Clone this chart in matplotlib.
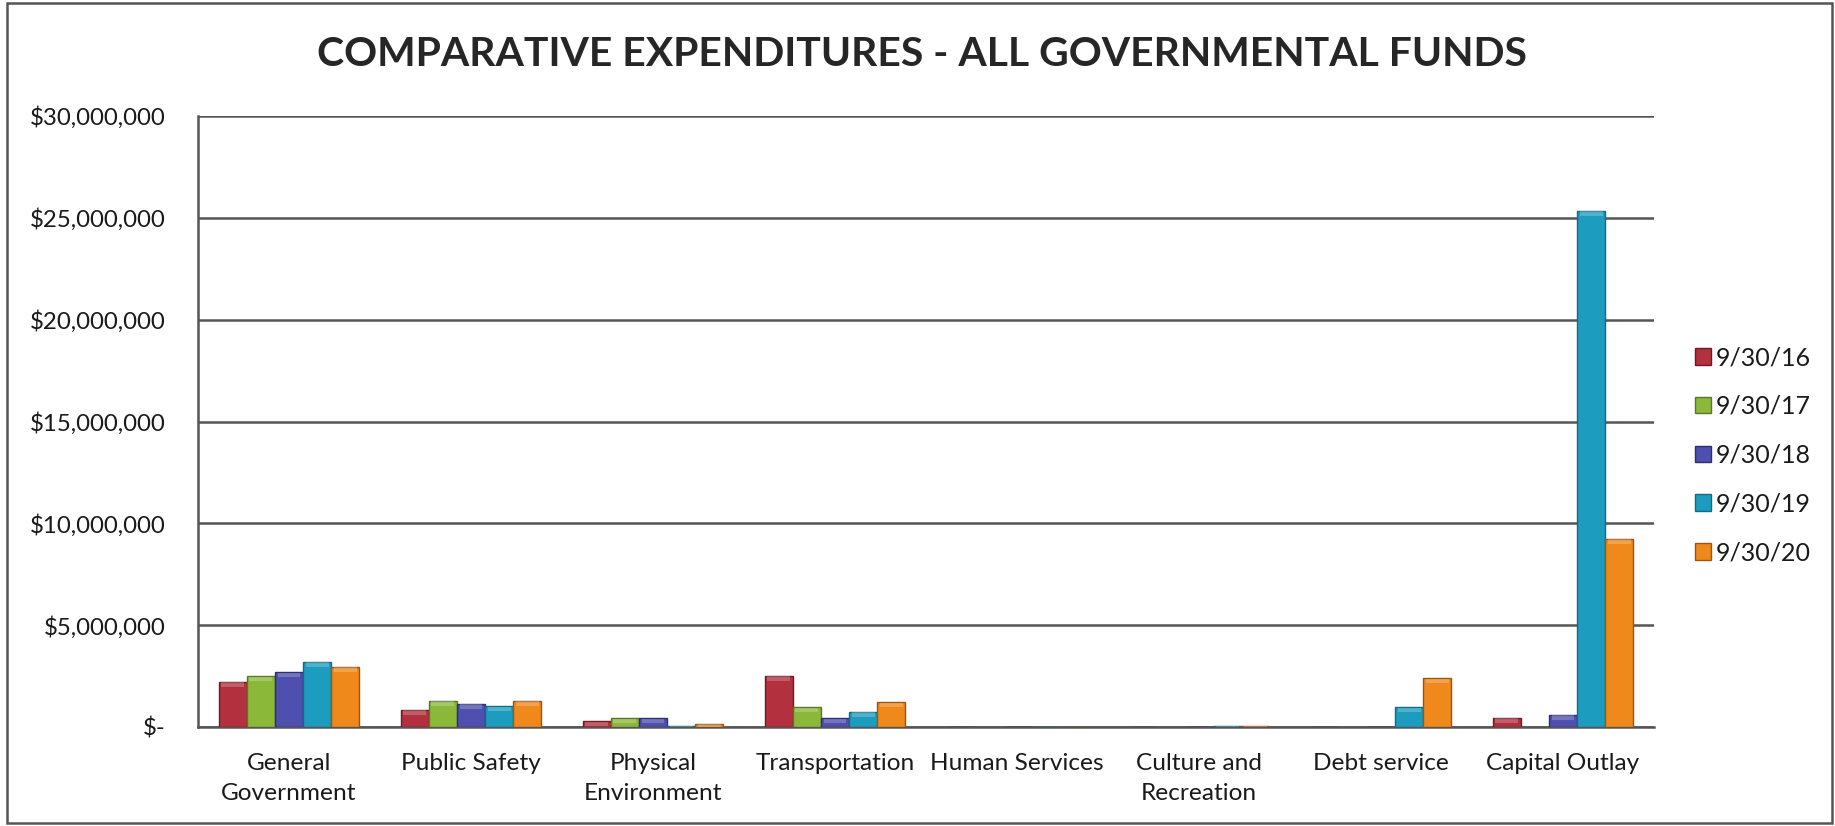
import matplotlib
matplotlib.use("Agg")
import matplotlib.pyplot as plt
import numpy as np
from matplotlib.patches import Rectangle
from matplotlib.ticker import FuncFormatter

categories = ["General\nGovernment", "Public Safety", "Physical\nEnvironment",
              "Transportation", "Human Services", "Culture and\nRecreation",
              "Debt service", "Capital Outlay"]
years = ["9/30/16", "9/30/17", "9/30/18", "9/30/19", "9/30/20"]

# expenditures in dollars, one list per fiscal year end
fy16 = [2_210_000, 850_000, 290_000, 2_520_000, 20_000, 0, 0, 460_000]
fy17 = [2_500_000, 1_290_000, 430_000, 980_000, 0, 0, 0, 0]
fy18 = [2_700_000, 1_150_000, 430_000, 430_000, 0, 0, 0, 610_000]
fy19 = [3_210_000, 1_020_000, 50_000, 750_000, 0, 60_000, 980_000, 25_360_000]
fy20 = [2_960_000, 1_290_000, 160_000, 1_210_000, 0, 60_000, 2_390_000, 9_250_000]

colors = ["#b3303e", "#8cb83a", "#4e4fae", "#1c9dbf", "#f0891c"]
edges = ["#6e1a24", "#57772a", "#2e2f73", "#136a82", "#9b5510"]

plt.rcParams["font.family"] = ["Lato", "DejaVu Sans"]

fig = plt.figure(figsize=(18.35, 8.26), dpi=100)
ax = fig.add_axes([198 / 1835, 1 - 727 / 826, (1654 - 198) / 1835, (727 - 116) / 826])

series = [fy16, fy17, fy18, fy19, fy20]
x = np.arange(len(categories))
w = 0.154
for i, (vals, c, ec, lab) in enumerate(zip(series, colors, edges, years)):
    pos = x + (i - 2) * w
    ax.bar(pos, vals, width=w, color=c, edgecolor=ec, linewidth=1.0,
           label=lab, zorder=3)
    # lighter bevel strip along the top of each bar
    vals = np.array(vals, dtype=float)
    cap = np.minimum(vals, 250_000)
    ax.bar(pos, cap * 0.9, bottom=vals - cap, width=w * 0.82,
           color="white", alpha=0.22, linewidth=0, zorder=4)

ax.set_xlim(-0.5, len(categories) - 0.5)
ax.set_ylim(0, 30_000_000)
ax.set_yticks(np.arange(0, 30_000_001, 5_000_000))
ax.yaxis.set_major_formatter(FuncFormatter(
    lambda v, p: "$-" if v == 0 else f"${v:,.0f}"))
ax.set_xticks(x)
ax.set_xticklabels(categories, fontsize=17.6, color="#1a1a1a", linespacing=1.5)
ax.tick_params(axis="y", labelsize=17.3, labelcolor="#1a1a1a", length=0, pad=23)
ax.tick_params(axis="x", length=0, pad=19)

ax.grid(axis="y", color="#555555", linewidth=1.8, zorder=0)
for s in ["top", "right"]:
    ax.spines[s].set_visible(False)
for s in ["left", "bottom"]:
    ax.spines[s].set_color("#555555")
    ax.spines[s].set_linewidth(1.8)

fig.text(922 / 1835, 1 - 55 / 826, "COMPARATIVE EXPENDITURES - ALL GOVERNMENTAL FUNDS",
         ha="center", va="center", fontsize=29.4, fontweight="bold", color="#262626")

leg = ax.legend(loc="center left", bbox_to_anchor=(1.028, 0.445), frameon=False,
                fontsize=18, handlelength=0.64, handleheight=0.64,
                handletextpad=0.2, labelspacing=1.03, borderpad=0,
                borderaxespad=0)
for t in leg.get_texts():
    t.set_color("#1a1a1a")

# outer frame around the whole chart
fig.patches.append(Rectangle((7 / 1835, 3 / 826), 1825 / 1835, 820 / 826,
                             transform=fig.transFigure, fill=False,
                             edgecolor="#555555", linewidth=1.8))

fig.savefig("out.png", dpi=100)
